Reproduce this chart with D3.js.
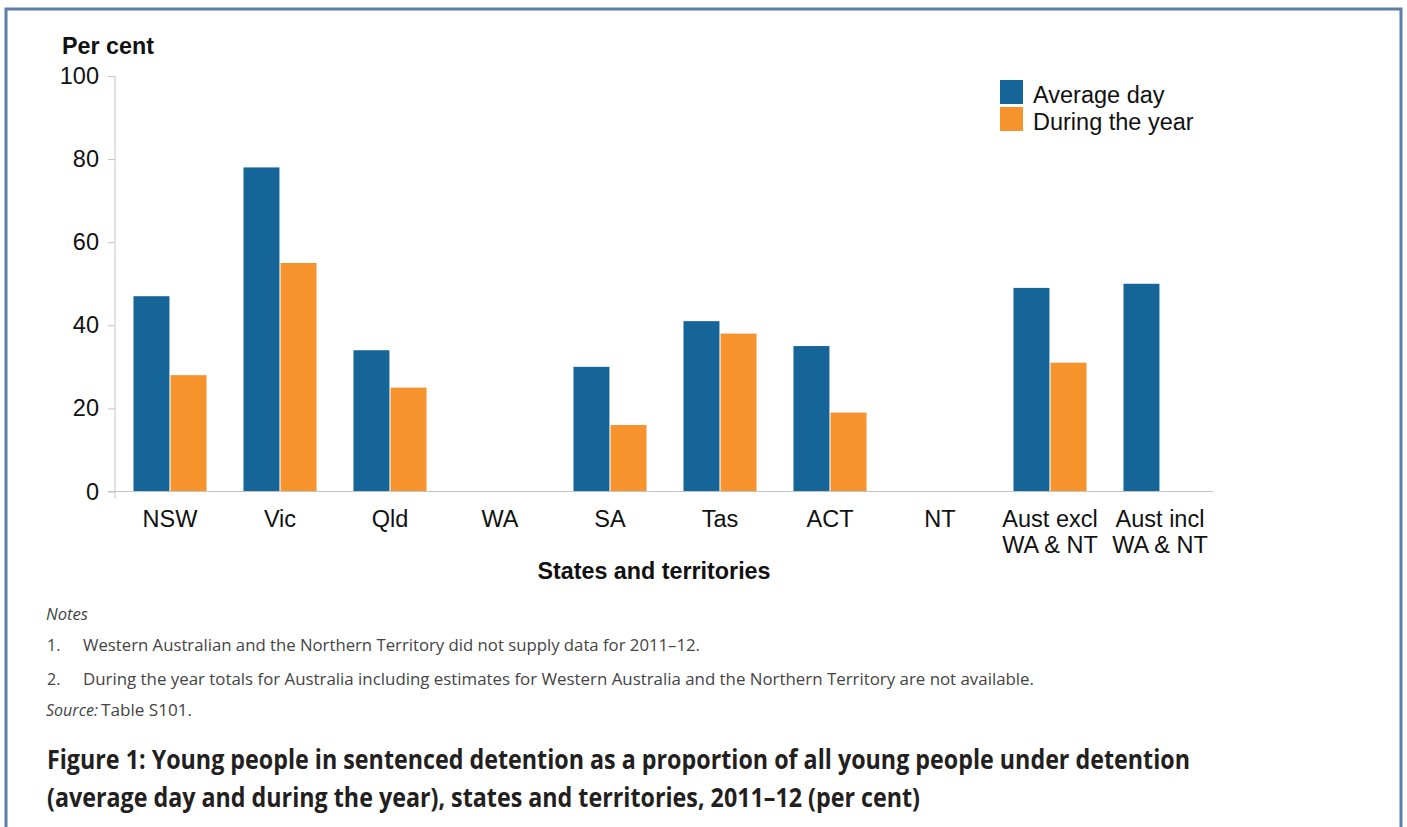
<!DOCTYPE html>
<html lang="en">
<head>
  <meta charset="UTF-8">
  <title>Young people in sentenced detention, 2011–12</title>
  <style>
    body {
      margin: 0;
      background-color: #ffffff;
    }

    svg {
      display: block;
    }

    .chart-text {
      font-family: 'Liberation Sans', Arial, sans-serif;
      fill: #111;
    }

    .note-text {
      font-family: 'Open Sans', 'Noto Sans', sans-serif;
      fill: #444;
      font-size: 16px;
    }

    .fig-title {
      font-family: 'Open Sans', 'Noto Sans', sans-serif;
      font-weight: 700;
      fill: #231f20;
      font-size: 26px;
    }
  </style>
</head>
<body>
  <div id="chart"></div>

  <script src="https://d3js.org/d3.v7.min.js"></script>
  <script>
    // Values (per cent); null = not supplied
    const categories = ['NSW', 'Vic', 'Qld', 'WA', 'SA', 'Tas', 'ACT', 'NT', 'Aust excl\nWA & NT', 'Aust incl\nWA & NT'];
    const averageDay = [47, 78, 34, null, 30, 41, 35, null, 49, 50];
    const duringYear = [28, 55, 25, null, 16, 38, 19, null, 31, null];
    const seriesNames = ['Average day', 'During the year'];
    const yTicks = [0, 20, 40, 60, 80, 100];

    const notes = [
      'Western Australian and the Northern Territory did not supply data for 2011–12.',
      'During the year totals for Australia including estimates for Western Australia and the Northern Territory are not available.'
    ];
    const titleLines = [
      'Figure 1: Young people in sentenced detention as a proportion of all young people under detention',
      '(average day and during the year), states and territories, 2011–12 (per cent)'
    ];

    const colors = ['#156599', '#f7932d'];
    const width = 1407;
    const height = 827;
    const labelSize = 23.5;

    const svg = d3.select('#chart').append('svg')
      .attr('width', width)
      .attr('height', height);

    // frame around the figure
    svg.append('rect')
      .attr('x', 6)
      .attr('y', 9)
      .attr('width', 1395)
      .attr('height', 900)
      .attr('fill', 'none')
      .attr('stroke', '#5b7fab')
      .attr('stroke-width', 3);

    const plotLeft = 115, plotRight = 1215, plotTop = 76, plotBottom = 491.5;

    const x0 = d3.scaleBand()
      .domain(categories)
      .range([plotLeft, plotRight])
      .paddingInner(0.336)
      .paddingOuter(0.168);

    const x1 = d3.scaleBand()
      .domain(seriesNames)
      .range([0, x0.bandwidth()])
      .paddingInner(0.03);

    const y = d3.scaleLinear()
      .domain([0, 100])
      .range([plotBottom, plotTop]);

    // build rows for bars
    const rows = [];
    categories.forEach((c, i) => {
      [averageDay[i], duringYear[i]].forEach((v, j) => {
        if (v !== null) rows.push({ cat: c, series: seriesNames[j], value: v, color: colors[j] });
      });
    });

    svg.selectAll('.bar')
      .data(rows)
      .enter().append('rect')
      .attr('class', 'bar')
      .attr('x', d => x0(d.cat) + x1(d.series))
      .attr('y', d => y(d.value))
      .attr('width', x1.bandwidth())
      .attr('height', d => y(0) - y(d.value))
      .attr('fill', d => d.color);

    // y axis
    const yAxis = svg.append('g')
      .attr('transform', `translate(${plotLeft},0)`)
      .call(d3.axisLeft(y).tickValues(yTicks).tickSize(7).tickPadding(9));
    yAxis.select('.domain').attr('stroke', '#c4c4c4').attr('d', `M0,${plotTop}V${plotBottom + 7}`);
    yAxis.selectAll('.tick line').attr('stroke', '#c4c4c4');
    yAxis.selectAll('.tick text')
      .attr('class', 'chart-text')
      .attr('font-size', labelSize)
      .attr('fill', '#111');

    // x axis baseline
    svg.append('line')
      .attr('x1', 108)
      .attr('x2', 1213)
      .attr('y1', y(0))
      .attr('y2', y(0))
      .attr('stroke', '#c4c4c4')
      .attr('stroke-width', 1.2);

    // category labels
    const catLabels = svg.selectAll('.cat-label')
      .data(categories)
      .enter().append('text')
      .attr('class', 'chart-text cat-label')
      .attr('text-anchor', 'middle')
      .attr('font-size', labelSize)
      .attr('x', d => x0(d) + x0.bandwidth() / 2)
      .attr('y', 527);
    catLabels.each(function(d) {
      const parts = d.split('\n');
      const t = d3.select(this);
      parts.forEach((p, k) => {
        t.append('tspan')
          .attr('x', x0(d) + x0.bandwidth() / 2)
          .attr('dy', k === 0 ? 0 : 26)
          .text(p);
      });
    });

    // axis titles
    svg.append('text')
      .attr('class', 'chart-text')
      .attr('x', 62)
      .attr('y', 54)
      .attr('font-size', 23.3)
      .attr('font-weight', 700)
      .text('Per cent');

    svg.append('text')
      .attr('class', 'chart-text')
      .attr('x', 654)
      .attr('y', 579)
      .attr('text-anchor', 'middle')
      .attr('font-size', 23.3)
      .attr('font-weight', 700)
      .text('States and territories');

    // legend
    const legend = svg.append('g').attr('transform', 'translate(1000,80)');
    seriesNames.forEach((s, i) => {
      legend.append('rect')
        .attr('x', 0)
        .attr('y', i * 27)
        .attr('width', 23)
        .attr('height', 24)
        .attr('fill', colors[i]);
      legend.append('text')
        .attr('class', 'chart-text')
        .attr('x', 33)
        .attr('y', i * 27 + 23)
        .attr('font-size', labelSize)
        .text(s);
    });

    // notes
    svg.append('text')
      .attr('class', 'note-text')
      .attr('x', 46)
      .attr('y', 620)
      .attr('font-style', 'italic')
      .attr('textLength', 42)
      .attr('lengthAdjust', 'spacingAndGlyphs')
      .text('Notes');

    const noteY = [651, 685];
    const noteEnds = [700, 1034];
    notes.forEach((n, i) => {
      svg.append('text')
        .attr('class', 'note-text')
        .attr('x', 47)
        .attr('y', noteY[i])
        .text((i + 1) + '.');
      svg.append('text')
        .attr('class', 'note-text')
        .attr('x', 83)
        .attr('y', noteY[i])
        .attr('textLength', noteEnds[i] - 83)
        .attr('lengthAdjust', 'spacingAndGlyphs')
        .text(n);
    });

    svg.append('text')
      .attr('class', 'note-text')
      .attr('x', 46)
      .attr('y', 716)
      .attr('font-style', 'italic')
      .attr('textLength', 52)
      .attr('lengthAdjust', 'spacingAndGlyphs')
      .text('Source:');
    svg.append('text')
      .attr('class', 'note-text')
      .attr('x', 101)
      .attr('y', 716)
      .attr('textLength', 91)
      .attr('lengthAdjust', 'spacingAndGlyphs')
      .text('Table S101.');

    // figure title
    const titleY = [769, 807];
    const titleEnds = [1190, 920];
    titleLines.forEach((t, i) => {
      svg.append('text')
        .attr('class', 'fig-title')
        .attr('x', 47)
        .attr('y', titleY[i])
        .attr('textLength', titleEnds[i] - 47)
        .attr('lengthAdjust', 'spacingAndGlyphs')
        .text(t);
    });
  </script>
</body>
</html>
